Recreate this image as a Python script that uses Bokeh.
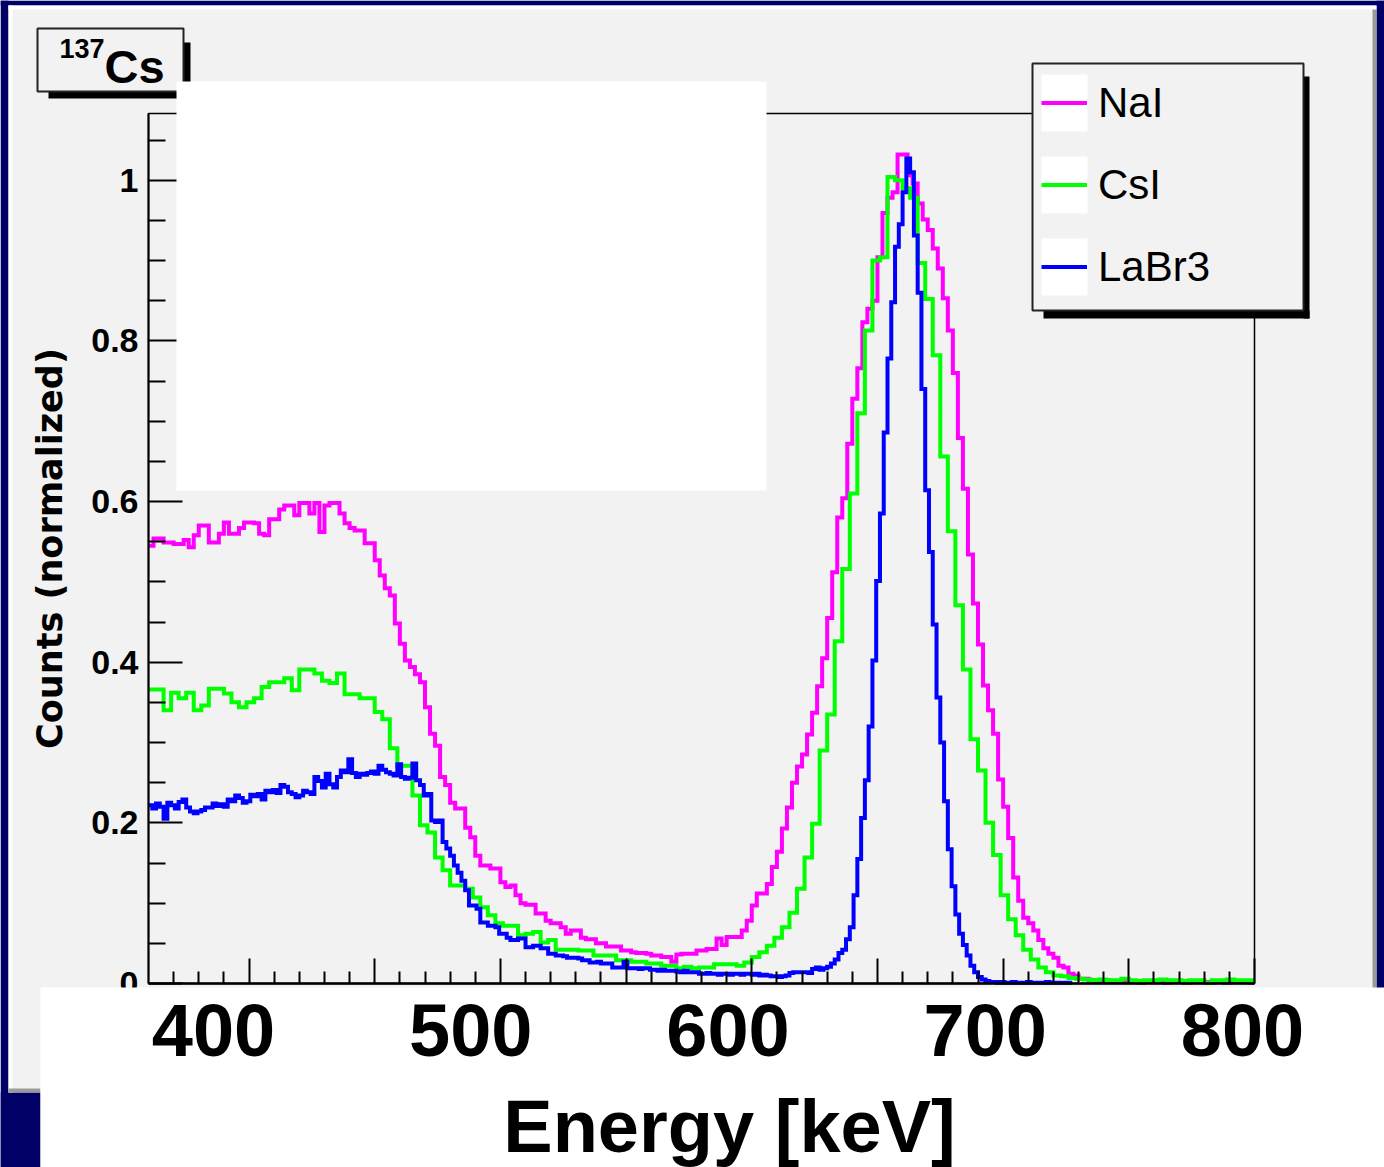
import numpy as np
from bokeh.plotting import figure
from bokeh.models import (Range1d, LinearAxis, FixedTicker, BoxAnnotation, Label,
                          Legend, LegendItem)
from bokeh.embed import file_html
from bokeh.resources import INLINE

# ---------------- data ----------------
series_names = ["NaI", "CsI", "LaBr3"]
series_colors = ["#ff00ff", "#00ff00", "#0000ff"]

nai_start, nai_width = 360.0, 2.0
nai_counts = [
    0.545, 0.554, 0.554, 0.549, 0.549, 0.547, 0.547, 0.552, 0.543, 0.558,
    0.570, 0.570, 0.549, 0.549, 0.560, 0.574, 0.560, 0.560, 0.567, 0.574,
    0.574, 0.573, 0.560, 0.558, 0.578, 0.578, 0.590, 0.595, 0.595, 0.583,
    0.598, 0.598, 0.585, 0.598, 0.562, 0.595, 0.598, 0.598, 0.585, 0.573,
    0.567, 0.564, 0.564, 0.548, 0.548, 0.527, 0.508, 0.492, 0.483, 0.448,
    0.423, 0.402, 0.394, 0.385, 0.375, 0.344, 0.311, 0.296, 0.257, 0.247,
    0.225, 0.218, 0.218, 0.194, 0.182, 0.159, 0.147, 0.147, 0.143, 0.143,
    0.126, 0.120, 0.122, 0.110, 0.100, 0.098, 0.098, 0.087, 0.087, 0.078,
    0.075, 0.075, 0.070, 0.062, 0.066, 0.066, 0.057, 0.055, 0.055, 0.050,
    0.050, 0.046, 0.046, 0.046, 0.041, 0.041, 0.039, 0.038, 0.038, 0.037,
    0.035, 0.035, 0.033, 0.033, 0.027, 0.036, 0.037, 0.037, 0.037, 0.041,
    0.041, 0.043, 0.043, 0.056, 0.048, 0.058, 0.058, 0.058, 0.066, 0.078,
    0.097, 0.112, 0.112, 0.124, 0.145, 0.164, 0.193, 0.219, 0.250, 0.270,
    0.285, 0.310, 0.337, 0.370, 0.405, 0.455, 0.512, 0.580, 0.604, 0.672,
    0.728, 0.766, 0.823, 0.840, 0.850, 0.904, 0.959, 0.978, 0.985, 1.032,
    1.032, 1.006, 0.996, 0.971, 0.951, 0.938, 0.915, 0.890, 0.853, 0.813,
    0.760, 0.679, 0.616, 0.534, 0.473, 0.422, 0.371, 0.340, 0.311, 0.254,
    0.220, 0.181, 0.132, 0.103, 0.082, 0.075, 0.066, 0.054, 0.044, 0.037,
    0.032, 0.022, 0.020, 0.012, 0.010, 0.006, 0.006, 0.004, 0.003, 0.002,
    0.004, 0.002, 0.003, 0.002, 0.002, 0.003, 0.002, 0.001, 0.002, 0.003,
    0.002, 0.002, 0.001, 0.002, 0.003, 0.002, 0.001, 0.002, 0.002, 0.003,
    0.002, 0.001, 0.002, 0.002, 0.001, 0.002, 0.003, 0.002, 0.002, 0.001,
]

csi_start, csi_width = 360.0, 3.0
csi_counts = [
    0.366, 0.366, 0.340, 0.362, 0.355, 0.362, 0.340, 0.346, 0.367, 0.367,
    0.361, 0.350, 0.344, 0.350, 0.355, 0.369, 0.375, 0.375, 0.380, 0.365,
    0.391, 0.391, 0.386, 0.377, 0.374, 0.386, 0.360, 0.360, 0.355, 0.355,
    0.338, 0.329, 0.293, 0.271, 0.271, 0.234, 0.197, 0.188, 0.157, 0.141,
    0.122, 0.122, 0.118, 0.107, 0.095, 0.085, 0.075, 0.072, 0.072, 0.060,
    0.062, 0.064, 0.051, 0.054, 0.042, 0.042, 0.042, 0.041, 0.041, 0.035,
    0.035, 0.035, 0.029, 0.029, 0.027, 0.027, 0.025, 0.025, 0.022, 0.022,
    0.019, 0.021, 0.019, 0.020, 0.020, 0.024, 0.024, 0.024, 0.022, 0.026,
    0.033, 0.039, 0.047, 0.057, 0.070, 0.088, 0.118, 0.157, 0.199, 0.290,
    0.335, 0.426, 0.516, 0.610, 0.710, 0.813, 0.900, 0.904, 1.004, 1.000,
    0.990, 0.978, 0.897, 0.852, 0.782, 0.656, 0.563, 0.471, 0.391, 0.304,
    0.265, 0.200, 0.160, 0.110, 0.080, 0.060, 0.042, 0.030, 0.020, 0.014,
    0.010, 0.009, 0.007, 0.006, 0.005, 0.004, 0.005, 0.004, 0.004, 0.006,
    0.004, 0.003, 0.004, 0.004, 0.005, 0.004, 0.004, 0.003, 0.004, 0.004,
    0.001, 0.004, 0.004, 0.005, 0.004, 0.004, 0.004,
]

labr3_start, labr3_width = 360.0, 1.5
labr3_counts = [
    0.222, 0.218, 0.224, 0.220, 0.205, 0.225, 0.222, 0.218, 0.226, 0.229,
    0.219, 0.214, 0.212, 0.214, 0.216, 0.219, 0.219, 0.224, 0.221, 0.223,
    0.220, 0.229, 0.227, 0.234, 0.231, 0.225, 0.227, 0.235, 0.233, 0.236,
    0.229, 0.240, 0.238, 0.241, 0.237, 0.247, 0.245, 0.238, 0.236, 0.232,
    0.234, 0.240, 0.238, 0.236, 0.257, 0.252, 0.244, 0.261, 0.248, 0.244,
    0.257, 0.265, 0.263, 0.279, 0.262, 0.257, 0.261, 0.260, 0.262, 0.264,
    0.261, 0.271, 0.266, 0.263, 0.261, 0.259, 0.273, 0.257, 0.255, 0.256,
    0.274, 0.253, 0.247, 0.234, 0.236, 0.203, 0.201, 0.203, 0.176, 0.168,
    0.159, 0.147, 0.138, 0.128, 0.116, 0.097, 0.097, 0.093, 0.076, 0.076,
    0.072, 0.072, 0.070, 0.062, 0.062, 0.057, 0.054, 0.054, 0.056, 0.056,
    0.045, 0.045, 0.047, 0.047, 0.044, 0.044, 0.037, 0.037, 0.035, 0.035,
    0.034, 0.032, 0.032, 0.032, 0.031, 0.029, 0.029, 0.026, 0.026, 0.027,
    0.025, 0.025, 0.025, 0.020, 0.020, 0.020, 0.027, 0.019, 0.019, 0.019,
    0.018, 0.019, 0.019, 0.017, 0.017, 0.016, 0.017, 0.016, 0.016, 0.016,
    0.015, 0.014, 0.016, 0.014, 0.014, 0.014, 0.012, 0.012, 0.013, 0.012,
    0.012, 0.011, 0.012, 0.012, 0.011, 0.012, 0.012, 0.011, 0.012, 0.012,
    0.011, 0.012, 0.010, 0.011, 0.010, 0.009, 0.009, 0.008, 0.009, 0.010,
    0.013, 0.014, 0.014, 0.014, 0.014, 0.013, 0.018, 0.020, 0.017, 0.019,
    0.021, 0.025, 0.030, 0.038, 0.042, 0.055, 0.070, 0.110, 0.155, 0.206,
    0.253, 0.320, 0.402, 0.501, 0.585, 0.686, 0.778, 0.848, 0.917, 0.945,
    0.985, 1.027, 1.010, 0.931, 0.860, 0.740, 0.614, 0.537, 0.447, 0.356,
    0.300, 0.227, 0.167, 0.121, 0.086, 0.062, 0.048, 0.035, 0.022, 0.014,
    0.008, 0.005, 0.003, 0.002, 0.002, 0.001, 0.002, 0.001, 0.001, 0.002,
    0.001, 0.001, 0.001, 0.002, 0.001, 0.001, 0.001, 0.001, 0.002, 0.001,
    0.001, 0.001, 0.001, 0.001, 0.001,
]

x_lo, x_hi = 360.0, 800.0
y_lo, y_hi = 0.0, 1.083
x_major_ticks = [400, 450, 500, 550, 600, 650, 700, 750, 800]
x_minor_ticks = [v for v in range(370, 800, 10) if v % 50 != 0]
x_label_values = [400, 500, 600, 700, 800]
y_tick_values = [0.0, 0.2, 0.4, 0.6, 0.8, 1.0]
y_tick_labels = ["0", "0.2", "0.4", "0.6", "0.8", "1"]
y_minor_ticks = [0.05, 0.1, 0.15, 0.25, 0.3, 0.35, 0.45, 0.5, 0.55, 0.65, 0.7, 0.75,
                 0.85, 0.9, 0.95, 1.05]
title_iso, title_elem = "137", "Cs"
x_title = "Energy [keV]"
y_title = "Counts (normalized)"

# ---------------- layout (pixels) ----------------
W, H = 1384, 1167
FL, FR, FT, FB = 148, 1254, 113, 983          # ROOT frame inside the canvas
NAVY = "#000066"
PANEL = "#f2f2f2"
FONT = "Liberation Sans"

# the Bokeh frame covers the whole canvas; the ranges are widened so that the
# data box [x_lo, x_hi] x [y_lo, y_hi] lands on the ROOT frame
kx = (FR - FL) / (x_hi - x_lo)
ky = (FB - FT) / (y_hi - y_lo)
x_rng = Range1d(x_lo - FL / kx, x_hi + (W - FR) / kx)
y_rng = Range1d(y_lo - (H - FB) / ky, y_hi + FT / ky)
# the big tick labels of the reference sit on their own, slightly different scale
lab0, lab1 = 213, 1242          # pixel centres of the 400 and 800 labels
kl = (lab1 - lab0) / (x_label_values[-1] - x_label_values[0])
lab_rng = Range1d(x_label_values[0] - lab0 / kl, x_label_values[0] + (W - lab0) / kl)

p = figure(width=W, height=H, x_range=x_rng, y_range=y_rng,
           output_backend="svg", toolbar_location=None, tools="",
           min_border_left=0, min_border_right=0, min_border_top=0, min_border_bottom=0,
           background_fill_color=PANEL, border_fill_color=PANEL, outline_line_color=None)
p.title.visible = False
p.grid.visible = False
p.extra_x_ranges = {"lab": lab_rng}

# y axis
ya = p.yaxis[0]
ya.fixed_location = x_lo
ya.bounds = (y_lo, y_hi)
ya.ticker = FixedTicker(ticks=y_tick_values, minor_ticks=y_minor_ticks)
ya.major_label_overrides = {v: s for v, s in zip(y_tick_values, y_tick_labels)}
ya.major_label_text_font = FONT
ya.major_label_text_font_style = "bold"
ya.major_label_text_font_size = "34px"
ya.major_label_text_color = "black"
ya.major_label_standoff = 10
ya.major_tick_in, ya.major_tick_out = 34, 0
ya.minor_tick_in, ya.minor_tick_out = 17, 0
ya.major_tick_line_width = 2
ya.minor_tick_line_width = 2
ya.axis_line_width = 2

# x axis (ticks only)
xa = p.xaxis[0]
xa.fixed_location = y_lo
xa.bounds = (x_lo, x_hi)
xa.ticker = FixedTicker(ticks=x_major_ticks, minor_ticks=x_minor_ticks)
xa.major_label_overrides = {v: "" for v in x_major_ticks}
xa.major_label_text_font_size = "1px"
xa.major_tick_in, xa.major_tick_out = 25, 0
xa.minor_tick_in, xa.minor_tick_out = 12, 0
xa.major_tick_line_width = 2
xa.minor_tick_line_width = 2
xa.axis_line_width = 2.5

# frame box of the ROOT pad
p.add_layout(BoxAnnotation(left=x_lo, right=x_hi, bottom=y_lo, top=y_hi,
                           fill_alpha=0.0, line_color="black", line_width=1.5, line_alpha=1.0))

# histograms
renderers = []
for start, width, counts, color in [(nai_start, nai_width, nai_counts, series_colors[0]),
                                    (csi_start, csi_width, csi_counts, series_colors[1]),
                                    (labr3_start, labr3_width, labr3_counts, series_colors[2])]:
    edges = np.clip(start + width * np.arange(len(counts) + 1), x_lo, x_hi)
    ys = list(counts) + [counts[-1]]
    r = p.step(x=edges, y=ys, mode="after", line_color=color, line_width=4, line_join="miter")
    renderers.append(r)


def cbox(x0, y0, x1, y1, fill, line=None, lw=0):
    b = BoxAnnotation(left=x0, right=x1, top=H - y0, bottom=H - y1,
                      left_units="screen", right_units="screen",
                      top_units="screen", bottom_units="screen",
                      fill_color=fill, fill_alpha=1.0,
                      line_color=line, line_width=lw, line_alpha=1.0 if line else 0.0)
    p.add_layout(b)
    return b


def ctext(x, y, text, size, style="bold", font=FONT, align="left", angle=0.0):
    # y is the vertical centre of the text box, in pixels from the top
    p.add_layout(Label(x=x, y=H - y, x_units="screen", y_units="screen", text=text,
                       angle=angle, text_font=font, text_font_style=style,
                       text_font_size=f"{size}px", text_color="black",
                       text_align=align, text_baseline="middle"))


# navy slide background around the ROOT canvas
cbox(0, 0, W, 5, NAVY)
cbox(0, 0, 8, H, NAVY)
cbox(1376, 0, W, 990, NAVY)
cbox(0, 1092, 40, H, NAVY)
# canvas bevel
cbox(8, 5, 1376, 9, "#ffffff")
cbox(8, 5, 12, 1092, "#ffffff")
cbox(8, 1088, 40, 1092, "#9a9a9a")
cbox(1372, 9, 1376, 990, "#9a9a9a")
# white band under the axis
cbox(40, 987, W, H, "#ffffff")

# title box
cbox(48, 91, 190, 98, "#000000")
cbox(183, 42, 190, 98, "#000000")
cbox(37, 28, 183, 91, PANEL, "#222222", 2)
ctext(59, 48, title_iso, 27)
ctext(104, 66, title_elem, 47)

# white patch over the upper left of the plot
cbox(176, 81, 766, 490, "#ffffff")

# legend box
cbox(1043, 310, 1309, 318, "#000000")
cbox(1303, 76, 1309, 318, "#000000")
cbox(1032, 63, 1303, 310, PANEL, "#222222", 2)
for y0, y1 in [(74, 131), (156, 213), (238, 295)]:
    cbox(1041, y0, 1087, y1, "#ffffff")

legend = Legend(items=[LegendItem(label=n, renderers=[r]) for n, r in zip(series_names, renderers)],
                location=(1041, H - 295), padding=0, margin=0, spacing=25,
                glyph_width=46, glyph_height=57, label_standoff=11, label_height=57,
                label_width=150, label_text_font=FONT, label_text_font_size="42px",
                label_text_color="black", background_fill_alpha=0.0, border_line_color=None)
p.add_layout(legend)

# axis titles
ctext(729, 1126, x_title, 74, align="center")
ctext(49, 548, y_title, 35, font="DejaVu Sans", align="center", angle=np.pi / 2)

# big tick labels drawn above the white band
la = LinearAxis(x_range_name="lab", fixed_location=y_lo,
                ticker=FixedTicker(ticks=x_label_values, minor_ticks=[]),
                major_tick_in=0, major_tick_out=0, minor_tick_in=0, minor_tick_out=0,
                axis_line_color=None, major_tick_line_color=None, minor_tick_line_color=None,
                major_label_text_font=FONT, major_label_text_font_style="bold",
                major_label_text_color="black",
                major_label_text_font_size="74px", major_label_standoff=20, level="overlay")
p.add_layout(la, "below")

open("out.html", "w").write(file_html(p, INLINE))
